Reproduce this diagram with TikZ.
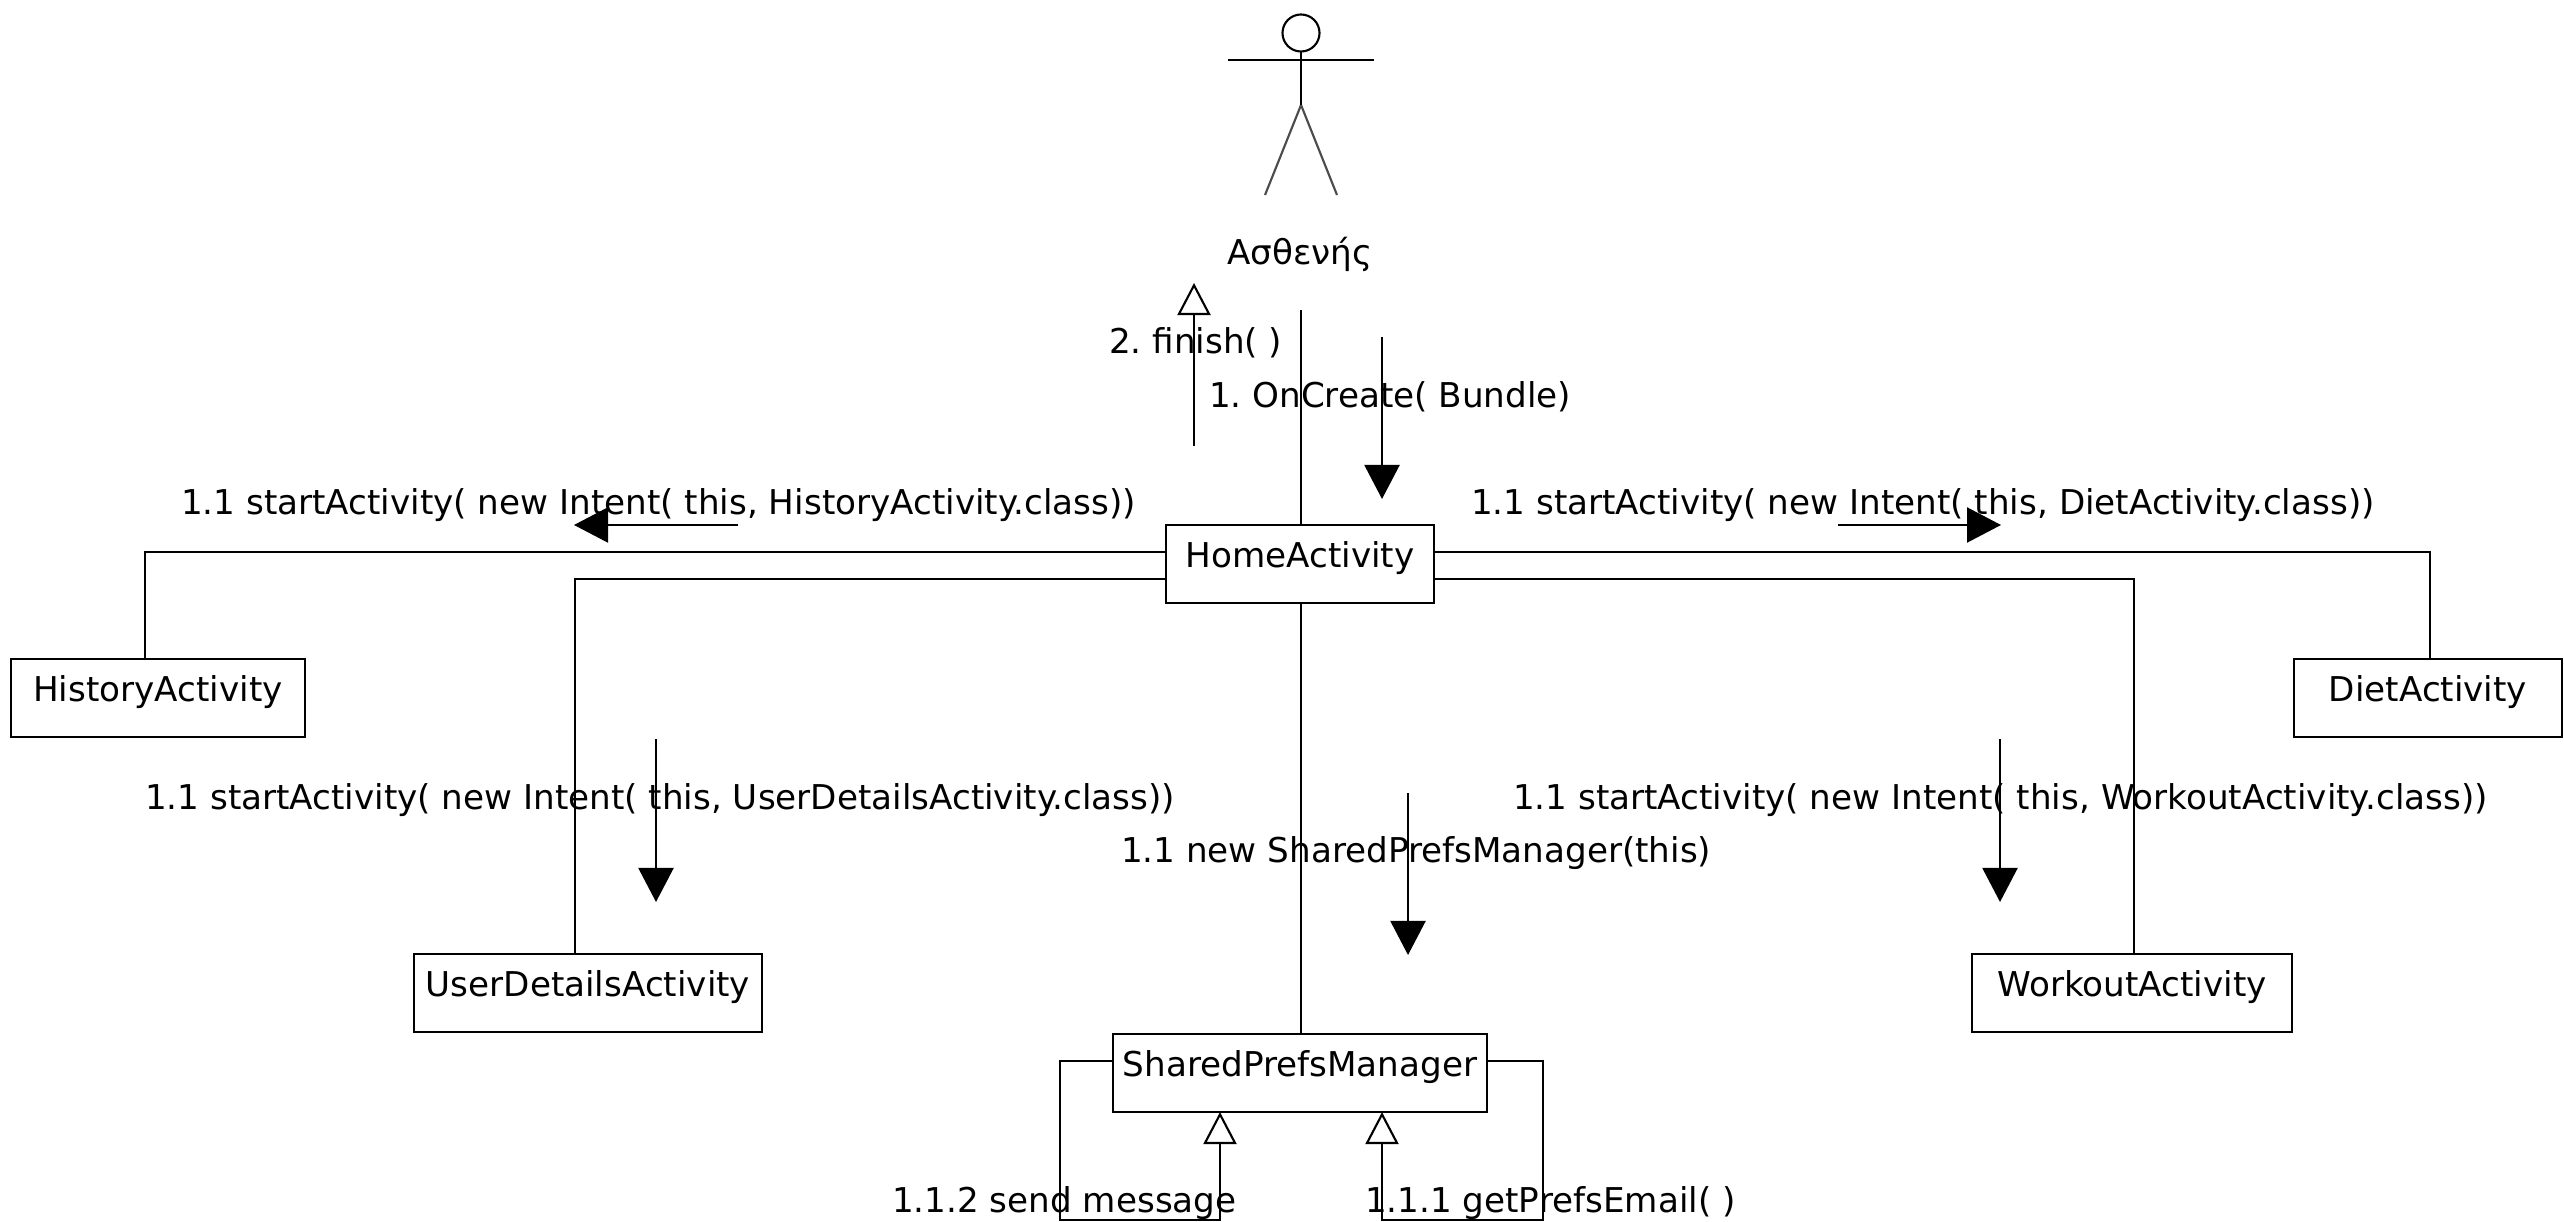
\documentclass[tikz,border=0pt]{standalone}
\usepackage{fontspec}
\setmainfont{DejaVu Sans}
\usepackage{tikz}
\usetikzlibrary{arrows.meta}
\tikzset{
  box/.style={draw,anchor=north,outer sep=0pt,inner xsep=0pt,inner ysep=0pt,align=center,text height=.42cm,text depth=.36cm},
  msg/.style={anchor=base west,inner sep=0pt},
  call/.style={-{Triangle[length=.34cm,width=.35cm]}},
  back/.style={-{Triangle[open,fill=white,length=.32cm,width=.33cm]}}
}

\begin{document}
\frenchspacing
\begin{tikzpicture}[x=.01cm,y=-.01cm,line width=.6pt,font=\fontsize{9.72}{12}\selectfont]
    \useasboundingbox (0,0) rectangle (2564,1222);

    % actor
    \node[circle,draw,inner sep=0pt,outer sep=0pt,minimum size=.37cm] (head) at (1301,33) {};
    \path (1228,60) coordinate (armw); \path (1374,60) coordinate (arme);
    \path (1301,105) coordinate (hip);
    \path (1265,195) coordinate (footw); \path (1337,195) coordinate (foote);
    \draw[gray!60!black] (hip) to (footw) (hip) to (foote);
    \draw (head) to (hip) (armw) to (arme);
    \node[msg] (patient) at (1226,265) {Ασθενής};

    % boxes
    \foreach \nm/\cx/\cy/\w in {HomeActivity/1300/525/2.68,HistoryActivity/158/659/2.94,
      DietActivity/2428/659/2.68,UserDetailsActivity/588/954/3.48,WorkoutActivity/2132/954/3.20,
      SharedPrefsManager/1300/1034/3.74}
    { \node[box,text width=\w cm] (\nm) at (\cx,\cy) {\nm}; }

    % links
    \path (1301,310) coordinate (top);
    \path (145,552) coordinate (hc); \path (575,579) coordinate (uc);
    \path (2430,552) coordinate (dc); \path (2134,579) coordinate (wc);
    \draw (top) to (HomeActivity.north -| top);
    \draw (HomeActivity.south -| top) to (SharedPrefsManager.north -| top);
    \draw (HomeActivity.west |- hc) to (hc) to (hc |- HistoryActivity.north);
    \draw (HomeActivity.west |- uc) to (uc) to (uc |- UserDetailsActivity.north);
    \draw (HomeActivity.east |- dc) to (dc) to (dc |- DietActivity.north);
    \draw (HomeActivity.east |- wc) to (wc) to (wc |- WorkoutActivity.north);

    % self calls
    \path (1060,1061) coordinate (l1); \path (1060,1220) coordinate (l2); \path (1220,1220) coordinate (l3);
    \path (1543,1061) coordinate (r1); \path (1543,1220) coordinate (r2); \path (1382,1220) coordinate (r3);
    \draw[back] (SharedPrefsManager.west |- l1) to (l1) to (l2) to (l3) to (l3 |- SharedPrefsManager.south);
    \draw[back] (SharedPrefsManager.east |- r1) to (r1) to (r2) to (r3) to (r3 |- SharedPrefsManager.south);

    % message arrows
    \path (1194,446) coordinate (fa); \path (1194,283) coordinate (fb);
    \draw[back] (fa) to (fb);
    \foreach \nm/\ax/\ay/\bx/\by in {create/1382/337/1382/499,hist/738/525/574/525,diet/1838/525/2001/525,
      user/656/739/656/902,work/2000/739/2000/902,prefs/1408/793/1408/955}
    { \path (\ax,\ay) coordinate (\nm a); \path (\bx,\by) coordinate (\nm b);
      \draw[call] (\nm a) to (\nm b); }

    % labels
    \node[msg] (finishl) at (1108,354) {2. finish( )};
    \node[msg] (createl) at (1208,408) {1. OnCreate( Bundle)};
    \node[msg] (histl) at (180,515) {1.1 startActivity( new Intent( this, HistoryActivity.class))};
    \node[msg] (dietl) at (1470,515) {1.1 startActivity( new Intent( this, DietActivity.class))};
    \node[msg] (userl) at (144,809) {1.1 startActivity( new Intent( this, UserDetailsActivity.class))};
    \node[msg] (workl) at (1512,809) {1.1 startActivity( new Intent( this, WorkoutActivity.class))};
    \node[msg] (prefsl) at (1120,862) {1.1 new SharedPrefsManager(this)};
    \node[msg] (sendl) at (891,1212) {1.1.2 send message};
    \node[msg] (emaill) at (1364,1212) {1.1.1 getPrefsEmail( )};
\end{tikzpicture}
\end{document}
